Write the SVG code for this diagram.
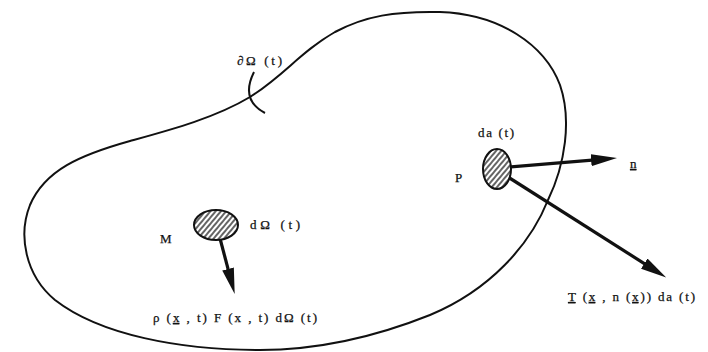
<svg xmlns="http://www.w3.org/2000/svg" width="708" height="352" viewBox="0 0 708 352">
<style>
.bd{fill:none;stroke:#111;stroke-width:2}
.ar{fill:none;stroke:#111;stroke-width:3.2;marker-end:url(#ah)}
.el{fill:url(#hatch);stroke:#111;stroke-width:2}
.t{font-family:"Liberation Serif","Times New Roman",serif;font-size:13px;fill:#111;stroke:#111;stroke-width:0.25}
.u{text-decoration:underline}
</style>
<defs>
<pattern id="hatch" patternUnits="userSpaceOnUse" width="4" height="4" patternTransform="rotate(40)">
<rect width="4" height="4" fill="#fff"/>
<line x1="1" y1="0" x2="1" y2="4" stroke="#222" stroke-width="1.4"/>
</pattern>
<marker id="ah" markerUnits="userSpaceOnUse" viewBox="0 0 26 12" markerWidth="26" markerHeight="12" refX="1" refY="6" orient="auto">
<path d="M0,0 L26,6 L0,12 Z" fill="#111"/>
</marker>
</defs>
<rect width="708" height="352" fill="#fff"/>
<g id="boundary">
<path class="bd" d="M440,12 C500,14 545,45 560,85 C572,120 565,165 548,200 C530,245 490,290 430,315 C380,335 320,350 260,350 C180,350 100,335 55,300 C25,275 18,235 30,205 C45,170 80,155 130,141 C170,130 215,118 250,97 C285,75 300,52 335,32 C365,16 395,11 440,12 Z"/>
<path class="bd" d="M254,72 Q240,100 265,113"/>
<text class="t" x="237" y="65" textLength="45" lengthAdjust="spacing">∂Ω (t)</text>
</g>
<g id="connectors">
<line class="ar" x1="217" y1="227" x2="228.3" y2="269.9"/>
<line class="ar" x1="497" y1="168" x2="592.1" y2="160.1"/>
<line class="ar" x1="497" y1="170" x2="645.1" y2="264.1"/>
</g>
<g id="M">
<ellipse class="el" cx="216" cy="225" rx="22" ry="15"/>
<text class="t" x="160" y="243">M</text>
<text class="t" x="250" y="229" textLength="50" lengthAdjust="spacing">dΩ (t)</text>
</g>
<g id="P">
<ellipse class="el" cx="497" cy="169" rx="14" ry="20"/>
<text class="t" x="455" y="182">P</text>
<text class="t" x="478" y="137" textLength="36" lengthAdjust="spacing">da (t)</text>
</g>
<g id="n-label">
<text class="t" x="630" y="168"><tspan class="u">n</tspan></text>
</g>
<g id="body-force-label">
<text class="t" x="153" y="322" textLength="164" lengthAdjust="spacing">ρ (<tspan class="u">x</tspan> , t) F (x , t) dΩ (t)</text>
</g>
<g id="traction-label">
<text class="t" x="568" y="301" textLength="127" lengthAdjust="spacing"><tspan class="u">T</tspan> (<tspan class="u">x</tspan> , n (<tspan class="u">x</tspan>)) da (t)</text>
</g>
</svg>
